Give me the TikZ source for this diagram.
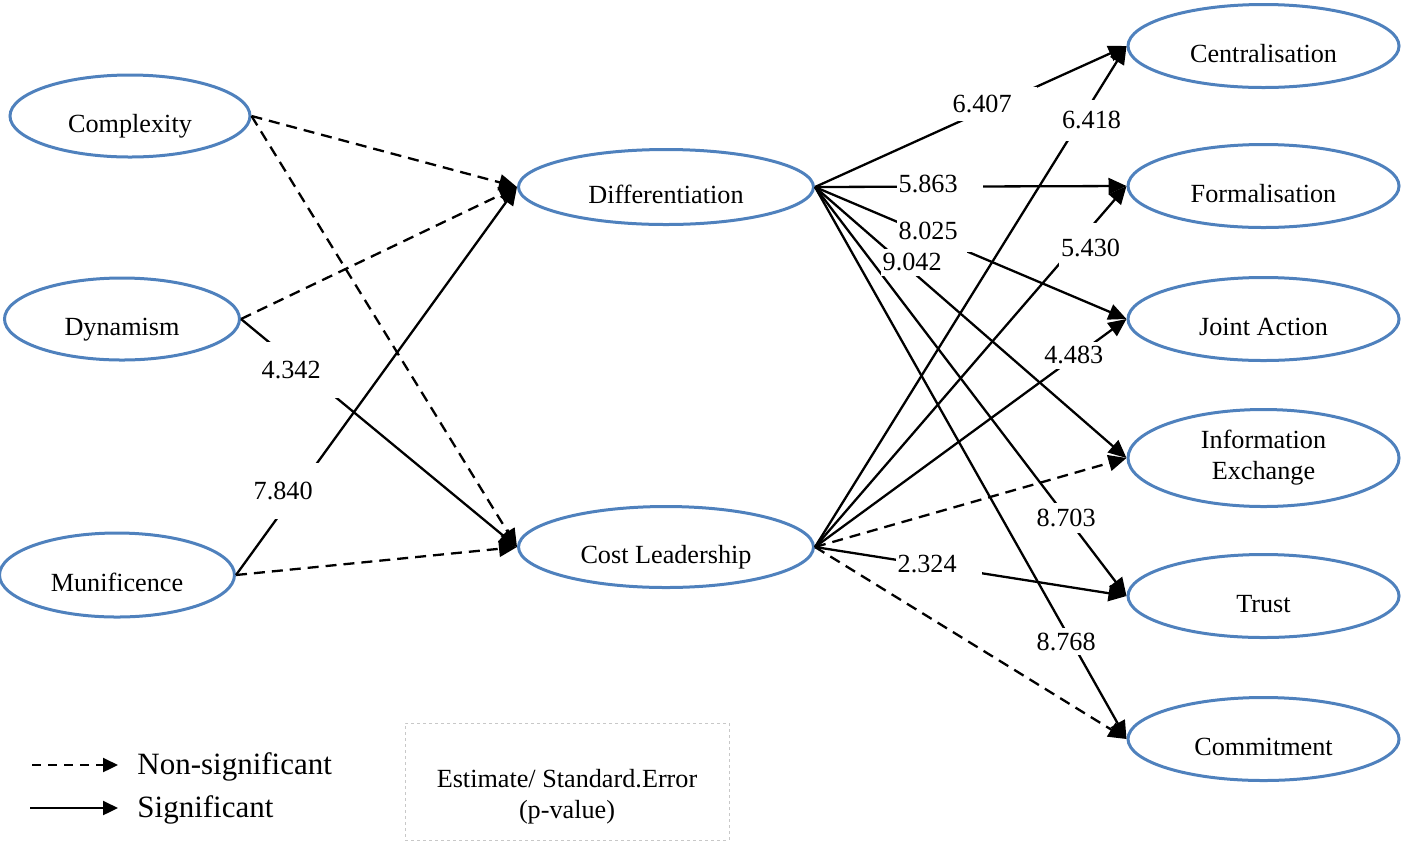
\documentclass[tikz,border=0pt]{standalone}
\usepackage{fontspec}
\setmainfont{Liberation Serif}
\usetikzlibrary{arrows.meta,shapes.geometric}
\definecolor{ovalblue}{RGB}{79,129,189}
\definecolor{boxgray}{RGB}{200,200,200}

\begin{document}
\begin{tikzpicture}[x=0.5pt,y=-0.5pt,
  oval/.style={ellipse, draw=ovalblue, line width=1.5pt, inner sep=0pt,
    font=\fontsize{13.1}{15.5}\selectfont, align=center},
  oneline/.style={text height=16pt, text depth=0pt},
  leftoval/.style={oval, oneline, minimum width=117.5pt, minimum height=41pt},
  midoval/.style={oval, oneline, minimum width=147.5pt},
  rightoval/.style={oval, minimum width=135.5pt, minimum height=41.5pt},
  sig/.style={line width=1.15pt, -{Triangle[length=9pt,width=8pt]}},
  nonsig/.style={sig, dash pattern=on 5.5pt off 3.5pt},
  legsig/.style={line width=1.15pt, -{Triangle[length=7.5pt,width=7pt]}},
  legnonsig/.style={legsig, dash pattern=on 4.5pt off 3.5pt},
  est/.style={fill=white, inner xsep=1pt, inner ysep=0pt, text width=41pt,
    align=left, font=\fontsize{13.1}{15}\selectfont},
  legfont/.style={font=\fontsize{15.5}{18}\selectfont},
]
\useasboundingbox (0,0) rectangle (1401,842);

% environment constructs
\node[leftoval, minimum width=120pt] (cx) at (130,116) {Complexity};
\node[leftoval] (dy) at (122,319) {Dynamism};
\node[leftoval, minimum height=42pt] (mu) at (117,575) {Munificence};

% strategies
\node[midoval, minimum height=37.5pt] (di) at (666,187) {Differentiation};
\node[midoval, minimum height=40.5pt] (cl) at (666,547) {Cost Leadership};

% relationship outcomes
\node[rightoval, oneline] (ce) at (1263.5,46)  {Centralisation};
\node[rightoval, oneline] (fo) at (1263.5,186) {Formalisation};
\node[rightoval, oneline] (ja) at (1263.5,319) {Joint Action};
\node[rightoval, minimum height=48.5pt] (ie) at (1263.5,458) {Information\\Exchange};
\node[rightoval, oneline] (tr) at (1263.5,596) {Trust};
\node[rightoval, oneline] (co) at (1263.5,739) {Commitment};

% paths into the strategies
\draw[nonsig] (cx.east) -- (di.west);
\draw[nonsig] (cx.east) -- (cl.west);
\draw[nonsig] (dy.east) -- (di.west);
\draw[sig]    (dy.east) -- (cl.west);
\draw[sig]    (mu.east) -- (di.west);
\draw[nonsig] (mu.east) -- (cl.west);

% paths out of differentiation
\draw[sig] (di.east) -- (ce.west);
\draw[sig] (di.east) -- (fo.west);
\draw[sig] (di.east) -- (ja.west);
\draw[sig] (di.east) -- (ie.west);
\draw[sig] (di.east) -- (tr.west);
\draw[sig] (di.east) -- (co.west);

% paths out of cost leadership
\draw[sig]    (cl.east) -- (ce.west);
\draw[sig]    (cl.east) -- (fo.west);
\draw[sig]    (cl.east) -- (ja.west);
\draw[nonsig] (cl.east) -- (ie.west);
\draw[sig]    (cl.east) -- (tr.west);
\draw[nonsig] (cl.east) -- (co.west);

% estimate labels, each masking its path
\node[est, minimum height=28pt]   (e4342) at (302.7,370)    {4.342};
\node[est, minimum height=28pt]   (e7840) at (294.7,490.5)  {7.840};
\node[est, minimum height=17pt]   (e6407) at (993.7,104)    {6.407};
\node[est, minimum height=17pt]   (e5863) at (939.7,183.5)  {5.863};
\node[est, minimum height=20.5pt] (e8025) at (939.7,231)    {8.025};
\node[est, minimum height=13.5pt] (e9042) at (923.7,262)    {9.042};
\node[est, minimum height=15pt]   (e8703) at (1077.7,518.3) {8.703};
\node[est, minimum height=13.5pt] (e8768) at (1077.7,641.7) {8.768};
\node[est, minimum height=20.5pt] (e6418) at (1103,120)     {6.418};
\node[est, minimum height=25.5pt] (e5430) at (1102,248.3)   {5.430};
\node[est, minimum height=13.5pt] (e4483) at (1085.3,355)   {4.483};
\node[est, minimum height=17pt]   (e2324) at (938.7,564)    {2.324};

% legend
\coordinate (ns0) at (32,765);
\coordinate (ns1) at (118,765);
\coordinate (sg0) at (30,808);
\coordinate (sg1) at (118,808);
\draw[legnonsig] (ns0) -- (ns1);
\draw[legsig] (sg0) -- (sg1);
\node[legfont, anchor=west, inner sep=0pt] (nstext) at (137,767) {Non-significant};
\node[legfont, anchor=west, inner sep=0pt] (sgtext) at (137,810) {Significant};

\node[draw=boxgray, line width=0.5pt, dash pattern=on 1.5pt off 1.5pt,
  minimum width=162pt, minimum height=58.5pt, inner sep=0pt] (keybox) at (567,781.5) {};
\node[font=\fontsize{13.1}{15.5}\selectfont, align=center] (keytext) at (567,796.5)
  {Estimate/ Standard.Error\\(p-value)};
\end{tikzpicture}
\end{document}
